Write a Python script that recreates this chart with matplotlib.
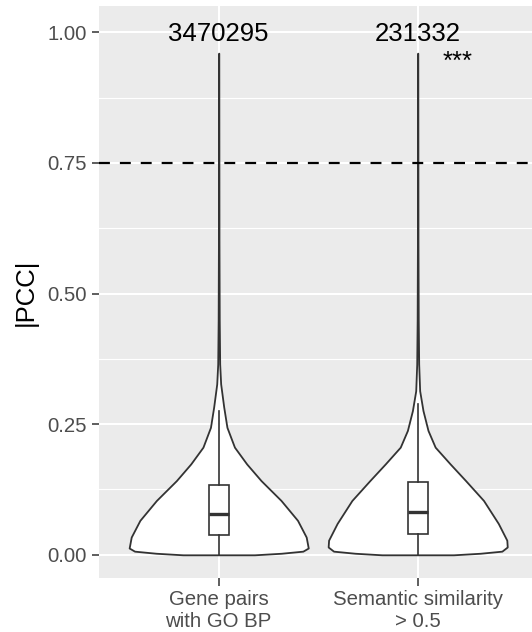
"""Violin + box plot of |PCC| for two gene pair groups (ggplot look)."""

import matplotlib

matplotlib.use("Agg")
import matplotlib.pyplot as plt
from matplotlib.ticker import FixedLocator

plt.rcParams["font.family"] = ["Liberation Sans", "DejaVu Sans"]

groups = ["Gene pairs\nwith GO BP", "Semantic similarity\n> 0.5"]
counts = ["3470295", "231332"]
signif = "***"
threshold = 0.75

# violin outlines: |PCC| level and relative half width (1 = widest)
violin_y = [
    [0.0, 0.003, 0.007, 0.013, 0.034, 0.066, 0.104, 0.142, 0.174, 0.206,
     0.244, 0.283, 0.327, 0.365, 0.45, 0.6, 0.8, 0.96],
    [0.0, 0.003, 0.007, 0.015, 0.028, 0.060, 0.104, 0.142, 0.174, 0.206,
     0.238, 0.276, 0.314, 0.365, 0.45, 0.6, 0.8, 0.96],
]
violin_w = [
    [0.40, 0.70, 0.94, 1.0, 0.977, 0.88, 0.696, 0.473, 0.312, 0.176,
     0.092, 0.056, 0.022, 0.011, 0.006, 0.003, 0.002, 0.001],
    [0.40, 0.70, 0.94, 1.0, 0.995, 0.90, 0.735, 0.535, 0.362, 0.195,
     0.115, 0.059, 0.022, 0.011, 0.006, 0.003, 0.002, 0.001],
]

box_q1 = [0.0386, 0.0405]
box_med = [0.0787, 0.0818]
box_q3 = [0.134, 0.139]
whisk_lo = [0.0, 0.0]
whisk_hi = [0.276, 0.289]

y_ticks = [0.0, 0.25, 0.5, 0.75, 1.0]
y_labels = ["0.00", "0.25", "0.50", "0.75", "1.00"]

EDGE = "#333333"
W, H = 532, 632

fig = plt.figure(figsize=(W / 100, H / 100), dpi=100)
ax = fig.add_axes([99.3 / W, (H - 577.7) / H, 437.8 / W, (577.7 - 6) / H])
ax.set_facecolor("#EBEBEB")
for spine in ax.spines.values():
    spine.set_visible(False)
ax.set_xlim(0.4, 2.6)
ax.set_ylim(-0.0438, 1.0503)

positions = [1, 2]
for pos, ys, ws in zip(positions, violin_y, violin_w):
    half = [0.45 * w for w in ws]
    ax.fill_betweenx(
        ys,
        [pos - h for h in half],
        [pos + h for h in half],
        facecolor="white",
        edgecolor=EDGE,
        linewidth=1.3,
        joinstyle="round",
        zorder=2,
    )

stats = [
    dict(med=m, q1=a, q3=b, whislo=lo, whishi=hi, fliers=[])
    for m, a, b, lo, hi in zip(box_med, box_q1, box_q3, whisk_lo, whisk_hi)
]
ax.bxp(
    stats,
    positions=positions,
    widths=0.1,
    showfliers=False,
    showcaps=False,
    patch_artist=True,
    manage_ticks=False,
    boxprops=dict(facecolor="white", edgecolor=EDGE, linewidth=1.2),
    medianprops=dict(color=EDGE, linewidth=2.4, solid_capstyle="butt"),
    whiskerprops=dict(color=EDGE, linewidth=1.2),
    zorder=3,
)

ax.axhline(threshold, color="black", linewidth=1.6, dashes=(4.9, 4.5), zorder=4)

for pos, label in zip(positions, counts):
    ax.text(pos, 0.984, label, ha="center", va="baseline", fontsize=18.5,
            color="black", zorder=5)
ax.text(2.2, 0.9305, signif, ha="center", va="baseline", fontsize=18.5,
        color="black", zorder=5)

ax.set_xticks(positions)
ax.set_xticklabels(groups, fontsize=14.7, color="#4D4D4D", linespacing=1.2)
ax.set_yticks(y_ticks)
ax.set_yticklabels(y_labels, fontsize=14.7, color="#4D4D4D")
ax.yaxis.set_minor_locator(FixedLocator([0.125, 0.375, 0.625, 0.875]))
ax.tick_params(which="major", direction="out", length=5.4, width=1.1,
               color=EDGE)
ax.tick_params(axis="y", pad=3.6)
ax.tick_params(axis="x", pad=3.5)
ax.tick_params(which="minor", length=0)
ax.grid(which="major", color="white", linewidth=1.5)
ax.grid(which="minor", axis="y", color="white", linewidth=0.8)
ax.set_axisbelow(True)

fig.text(26 / W, 1 - 292 / H, "|PCC|", rotation=90, ha="center",
         va="center", fontsize=18.5, color="black")

fig.savefig("out.png", dpi=100)
plt.close(fig)
